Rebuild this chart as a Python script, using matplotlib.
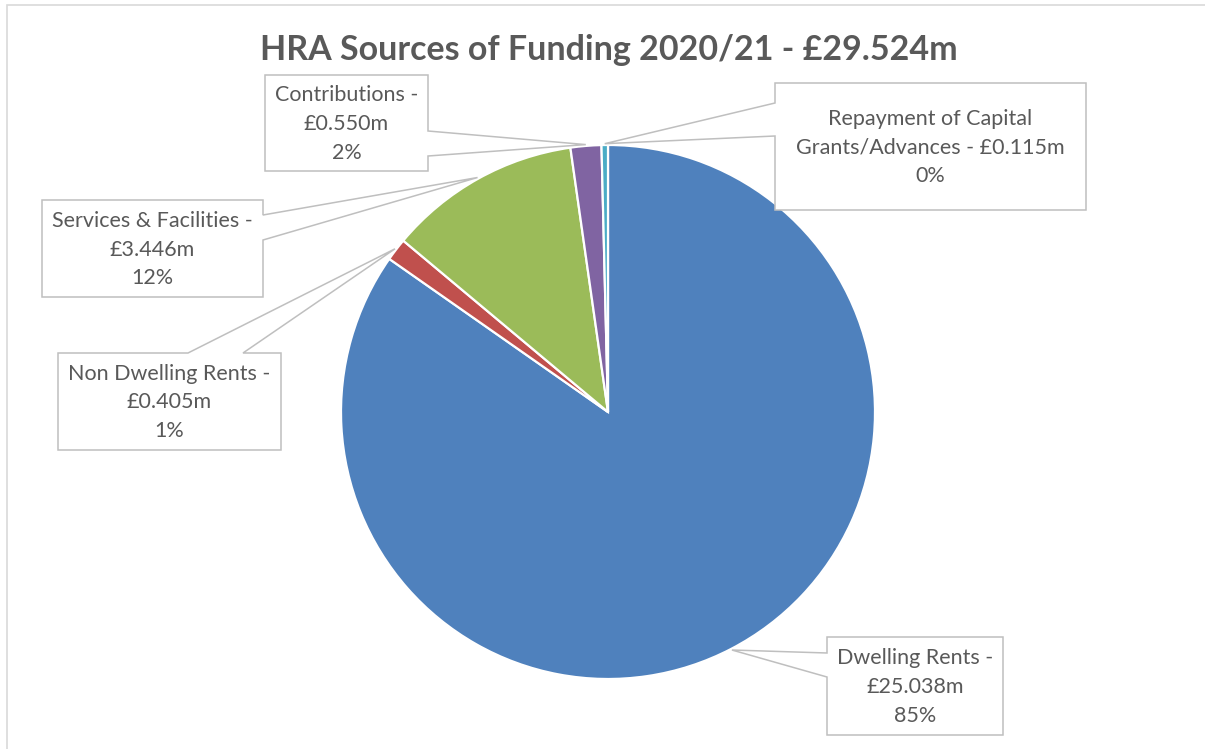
import numpy as np
import matplotlib
matplotlib.use('Agg')
import matplotlib.pyplot as plt
from matplotlib.patches import Polygon

# HRA funding sources 2020/21 (£m)
sources = ['Dwelling Rents', 'Non Dwelling Rents', 'Services & Facilities',
           'Contributions', 'Repayment of Capital Grants/Advances']
amounts = [25.038, 0.405, 3.446, 0.550, 0.115]
pct_labels = ['85%', '1%', '12%', '2%', '0%']
label_text = ['Dwelling Rents -\n£25.038m',
              'Non Dwelling Rents -\n£0.405m',
              'Services & Facilities -\n£3.446m',
              'Contributions -\n£0.550m',
              'Repayment of Capital\nGrants/Advances - £0.115m']
title = 'HRA Sources of Funding 2020/21 - £29.524m'

colours = ['#4F81BD', '#C0504D', '#9BBB59', '#8064A2', '#4BACC6']

W, H = 1205, 749
CX, CY, R = 608, 412, 267

# callout boxes: (left, top, right, bottom), side the pointer leaves from, pointer base span
boxes = [
    ((827, 637, 1003, 735), 'left', (653, 677)),
    ((58, 353, 281, 450), 'top', (188, 243)),
    ((42, 200, 263, 297), 'right', (215, 240)),
    ((265, 75, 428, 171), 'right', (131, 156)),
    ((775, 83, 1086, 210), 'left', (103, 136)),
]

plt.rcParams['font.family'] = ['Lato', 'DejaVu Sans']

fig = plt.figure(figsize=(W / 100, H / 100), dpi=100)
ax = fig.add_axes([0, 0, 1, 1])
ax.set_xlim(0, W)
ax.set_ylim(H, 0)
ax.set_aspect('equal')
ax.axis('off')

# outer chart border (only top and left show)
ax.plot([6.5, 6.5, W], [H, 4.5, 4.5], color='#d9d9d9', lw=1.2, solid_joinstyle='miter')

# y axis is flipped, so startangle=-90 is the top and counterclock draws clockwise on screen
wedges, _ = ax.pie(amounts, colors=colours, startangle=-90, counterclock=True,
                   center=(CX, CY), radius=R, frame=True,
                   wedgeprops=dict(edgecolor='white', linewidth=1.6))
ax.set_xlim(0, W)
ax.set_ylim(H, 0)
ax.axis('off')

for w, (rect, side, (a, b)), txt, pct in zip(wedges, boxes, label_text, pct_labels):
    mid = np.deg2rad((w.theta1 + w.theta2) / 2)
    tip = (CX + R * 1.005 * np.cos(mid), CY + R * 1.005 * np.sin(mid))
    l, t, r, bt = rect
    if side == 'right':
        pts = [(l, t), (r, t), (r, a), tip, (r, b), (r, bt), (l, bt)]
    elif side == 'left':
        pts = [(l, t), (r, t), (r, bt), (l, bt), (l, b), tip, (l, a)]
    else:
        pts = [(l, t), (a, t), tip, (b, t), (r, t), (r, bt), (l, bt)]
    ax.add_patch(Polygon(pts, closed=True, facecolor='white', edgecolor='#bfbfbf',
                         lw=1.1, zorder=5))
    ax.text((l + r) / 2, (t + bt) / 2 + 1, txt + '\n' + pct, ha='center', va='center',
            fontsize=15.5, color='#595959', linespacing=1.55, zorder=6)

ax.text(609, 50, title, ha='center', va='center', fontsize=24.5, fontweight='bold',
        color='#595959')

fig.savefig('out.png', dpi=100)
